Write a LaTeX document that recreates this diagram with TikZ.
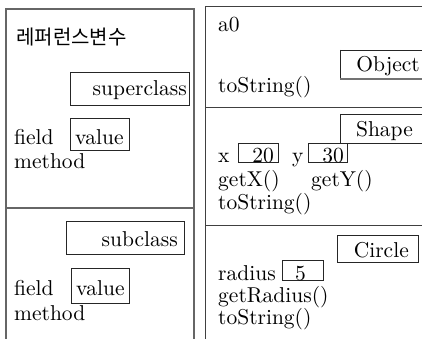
\documentclass[tikz,border=0pt]{standalone}
\usepackage{fontspec}
\setmainfont{lmroman10-regular}[Extension=.otf]
\newfontfamily\kr{Noto Sans CJK KR}
\tikzset{
  panel/.style={draw=black!75, line width=1pt},
  lpanel/.style={draw=black!60, line width=1.2pt},
  vbox/.style={draw=black!85, line width=0.9pt},
  txt/.style={inner sep=0pt, font=\fontsize{21.5}{24}\selectfont},
}
\begin{document}
\begin{tikzpicture}[x=1pt,y=-1pt]
\clip (0,0) rectangle (422,339);
\fill[white] (0,0) rectangle (422,339);
% left panel
\draw[lpanel] (6,9) rectangle (194,360);
\draw[lpanel] (6,208) -- (194,208);
% right panel
\draw[panel] (205,7) rectangle (440,360);
\draw[panel] (205,108) -- (440,108);
\draw[panel] (205,225) -- (440,225);

% left panel content
\node[txt, anchor=base west, font=\kr\fontsize{20}{24}\selectfont] (ref) at (16,45) {레퍼런스변수};
\draw[vbox] (70,72) rectangle (189,105);
\node[txt, anchor=base east] (sup) at (187,96) {superclass};
\node[txt, anchor=base west] (f1) at (14,145) {field};
\draw[vbox] (70,118) rectangle (129,150);
\node[txt, anchor=base west] (v1) at (75,145) {value};
\node[txt, anchor=base west] (m1) at (14,168) {method};

\draw[vbox] (66,221) rectangle (184,254);
\node[txt, anchor=base east] (sub) at (178,246) {subclass};
\node[txt, anchor=base west] (f2) at (14,295) {field};
\draw[vbox] (71,268) rectangle (129,303);
\node[txt, anchor=base west] (v2) at (76,295) {value};
\node[txt, anchor=base west] (m2) at (14,320) {method};

% right panel content
\node[txt, anchor=base west] (a0) at (218,32) {a0};
\draw[vbox] (340,50) -- (430,50) (340,50) -- (340,79);
\draw[draw=black!55, line width=1.4pt] (340,79) -- (430,79);
\node[txt, anchor=base east] (obj) at (420,72) {Object};
\node[txt, anchor=base west] (ts1) at (218,93) {toString()};

\draw[vbox] (340,114) -- (430,114) (340,114) -- (340,143) -- (430,143);
\node[txt, anchor=base east] (shp) at (413,137) {Shape};
\node[txt, anchor=base west] (x) at (218,162) {x};
\draw[vbox] (238,143) rectangle (278,162);
\node[txt, anchor=base east] (x20) at (274,162) {20};
\node[txt, anchor=base west] (y) at (292,162) {y};
\draw[vbox] (308,143) rectangle (347,162);
\node[txt, anchor=base east] (y30) at (344,162) {30};
\node[txt, anchor=base west] (gx) at (218,186) {getX()};
\node[txt, anchor=base west] (gy) at (311,186) {getY()};
\node[txt, anchor=base west] (ts2) at (218,209) {toString()};

\draw[vbox] (337,235) rectangle (418,262);
\node[txt, anchor=base east] (cir) at (409,257) {Circle};
\node[txt, anchor=base west] (rad) at (218,280) {radius};
\draw[vbox] (282,260) rectangle (323,280);
\node[txt, anchor=base west] (r5) at (295,280) {5};
\node[txt, anchor=base west] (gr) at (218,302) {getRadius()};
\node[txt, anchor=base west] (ts3) at (218,324) {toString()};
\end{tikzpicture}
\end{document}
